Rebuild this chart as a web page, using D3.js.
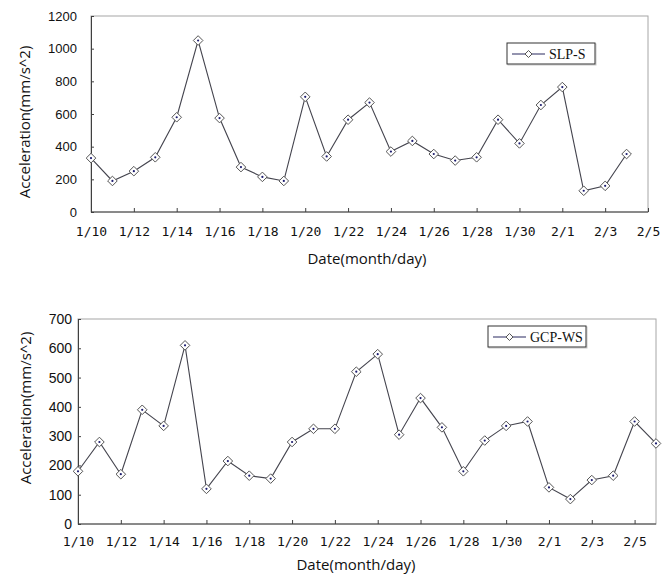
<!DOCTYPE html>
<html lang="en">
<head>
<meta charset="UTF-8">
<title>Acceleration by date</title>
<script src="https://d3js.org/d3.v7.min.js"></script>
<style>
  body { margin: 0; background: #fff; }
  svg { display: block; }
</style>
</head>
<body>
<svg id="chart" width="670" height="575"></svg>
<script>
// axis days (categories)
const topDays = ["1/10","1/11","1/12","1/13","1/14","1/15","1/16","1/17","1/18","1/19","1/20","1/21","1/22","1/23","1/24","1/25","1/26","1/27","1/28","1/29","1/30","1/31","2/1","2/2","2/3","2/4","2/5"];
const bottomDays = ["1/10","1/11","1/12","1/13","1/14","1/15","1/16","1/17","1/18","1/19","1/20","1/21","1/22","1/23","1/24","1/25","1/26","1/27","1/28","1/29","1/30","1/31","2/1","2/2","2/3","2/4","2/5","2/6"];
const dayTicks = ["1/10","1/12","1/14","1/16","1/18","1/20","1/22","1/24","1/26","1/28","1/30","2/1","2/3","2/5"];

// SLP-S series, 1/10 .. 2/4
const slpValues = [330, 190, 250, 335, 580, 1050, 575, 275, 215, 190, 705, 340, 565, 670, 370, 435, 355, 315, 335, 565, 420, 655, 765, 130, 160, 355];
// GCP-WS series, 1/10 .. 2/6
const gcpValues = [180, 280, 170, 390, 335, 610, 120, 215, 165, 155, 280, 325, 325, 520, 580, 305, 430, 330, 180, 285, 335, 350, 125, 85, 150, 165, 350, 275];

const topYTicks = [0, 200, 400, 600, 800, 1000, 1200];
const bottomYTicks = [0, 100, 200, 300, 400, 500, 600, 700];

const svg = d3.select("#chart");

function drawPanel(opt) {
  const x = d3.scalePoint().domain(opt.days).range([opt.left, opt.right]);
  const y = d3.scaleLinear().domain([0, opt.yMax]).range([opt.bottom, opt.top]);
  const g = svg.append("g");

  // frame: light top/right, dark axes
  g.append("rect")
    .attr("x", opt.left).attr("y", opt.top)
    .attr("width", opt.right - opt.left).attr("height", opt.bottom - opt.top)
    .attr("fill", "#fff").attr("stroke", "#a6a6a6");

  const xAxis = g.append("g")
    .attr("transform", `translate(0,${opt.bottom})`)
    .call(d3.axisBottom(x).tickValues(dayTicks).tickSizeInner(-4).tickSizeOuter(0).tickPadding(opt.xPad));
  xAxis.select(".domain").attr("stroke", "#404040").attr("d", `M${opt.left},0H${opt.right}`);
  xAxis.selectAll(".tick line").attr("stroke", "#404040");
  xAxis.selectAll("text")
    .attr("font-family", "'DejaVu Sans Mono', monospace")
    .attr("font-size", 13).attr("fill", "#111");

  const yAxis = g.append("g")
    .attr("transform", `translate(${opt.left},0)`)
    .call(d3.axisLeft(y).tickValues(opt.yTicks).tickFormat(d3.format("d"))
      .tickSizeInner(-3).tickSizeOuter(0).tickPadding(opt.yPad));
  yAxis.select(".domain").attr("stroke", "#404040");
  yAxis.selectAll(".tick line").attr("stroke", "#404040");
  yAxis.selectAll("text")
    .attr("font-family", "'Liberation Sans', Arial, sans-serif")
    .attr("font-size", opt.yFont).attr("fill", "#111");

  const pts = opt.values.map((v, i) => [x(opt.days[i]), y(v)]);

  g.append("path")
    .attr("d", d3.line()(pts))
    .attr("fill", "none").attr("stroke", "#44444e").attr("stroke-width", 1.1);

  g.selectAll(".mk").data(pts).enter().append("path")
    .attr("class", "mk")
    .attr("transform", d => `translate(${d[0]},${d[1]})`)
    .attr("d", "M0,-4.8L4.8,0L0,4.8L-4.8,0Z")
    .attr("fill", "#fff").attr("stroke", "#555").attr("stroke-width", 1);

  g.selectAll(".dot").data(pts).enter().append("circle")
    .attr("cx", d => d[0]).attr("cy", d => d[1]).attr("r", 1.1)
    .attr("fill", "#1c1c6e");

  // legend
  const lg = g.append("g").attr("transform", `translate(${opt.legend[0]},${opt.legend[1]})`);
  lg.append("rect").attr("x", 1).attr("y", 1).attr("width", opt.legendW).attr("height", 21)
    .attr("fill", "none").attr("stroke", "#c8c8c8");
  lg.append("rect").attr("width", opt.legendW).attr("height", 21)
    .attr("fill", "#fff").attr("stroke", "#333");
  lg.append("line").attr("x1", 5).attr("x2", 38).attr("y1", 11).attr("y2", 11)
    .attr("stroke", "#2a2a60").attr("stroke-width", 1.2);
  lg.append("path").attr("transform", "translate(21.5,11)")
    .attr("d", "M0,-3.5L3.5,0L0,3.5L-3.5,0Z")
    .attr("fill", "#fff").attr("stroke", "#555");
  lg.append("text").attr("x", 42).attr("y", 16)
    .attr("font-family", "'Liberation Serif', serif").attr("font-size", 14)
    .attr("fill", "#111").text(opt.name);

  // axis titles
  g.append("text")
    .attr("transform", `translate(${opt.yLabel[0]},${opt.yLabel[1]}) rotate(-90)`)
    .attr("text-anchor", "middle").attr("dy", "0.35em")
    .attr("font-family", "'Open Sans', sans-serif").attr("font-size", 15)
    .attr("fill", "#111").text("Acceleration(mm/s^2)");
  g.append("text")
    .attr("x", opt.xLabel[0]).attr("y", opt.xLabel[1])
    .attr("text-anchor", "middle").attr("dy", "0.35em")
    .attr("font-family", "'Open Sans', sans-serif").attr("font-size", 15)
    .attr("fill", "#111").text("Date(month/day)");
}

drawPanel({
  days: topDays, values: slpValues, name: "SLP-S",
  left: 91, right: 648, top: 16, bottom: 212, yMax: 1200, yTicks: topYTicks,
  xPad: 15, yPad: 14, yFont: 13,
  legend: [507, 43], legendW: 88,
  yLabel: [25, 122], xLabel: [367, 259]
});

drawPanel({
  days: bottomDays, values: gcpValues, name: "GCP-WS",
  left: 78, right: 656, top: 319, bottom: 524, yMax: 700, yTicks: bottomYTicks,
  xPad: 13, yPad: 6, yFont: 14,
  legend: [488, 326], legendW: 98,
  yLabel: [26, 408], xLabel: [356, 565]
});
</script>
</body>
</html>
